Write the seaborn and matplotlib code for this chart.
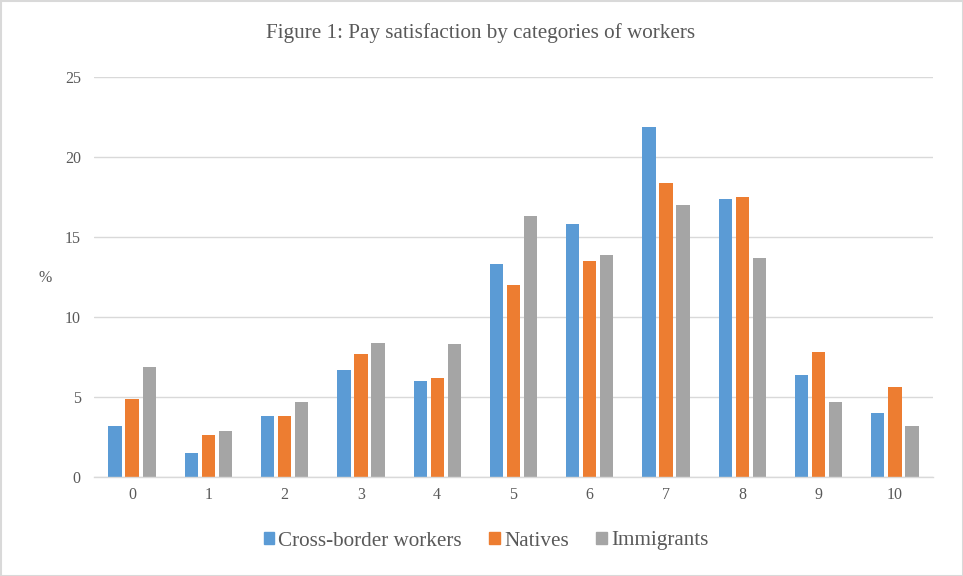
import matplotlib
matplotlib.use("Agg")
import matplotlib.pyplot as plt
import seaborn as sns
import pandas as pd
from matplotlib.patches import Rectangle

categories = ["0", "1", "2", "3", "4", "5", "6", "7", "8", "9", "10"]
cross_border = [3.2, 1.5, 3.8, 6.7, 6.0, 13.3, 15.8, 21.9, 17.4, 6.4, 4.0]
natives = [4.9, 2.6, 3.8, 7.7, 6.2, 12.0, 13.5, 18.4, 17.5, 7.8, 5.6]
immigrants = [6.9, 2.9, 4.7, 8.4, 8.3, 16.3, 13.9, 17.0, 13.7, 4.7, 3.2]
series_names = ["Cross-border workers", "Natives", "Immigrants"]
colors = ["#5B9BD5", "#ED7D31", "#A5A5A5"]

rows = []
for name, vals in zip(series_names, [cross_border, natives, immigrants]):
    for c, v in zip(categories, vals):
        rows.append({"cat": c, "val": v, "series": name})
df = pd.DataFrame(rows)

sns.set_theme(style="white")
plt.rcParams["font.family"] = ["Liberation Serif", "DejaVu Serif"]
text_color = "#595959"

fig = plt.figure(figsize=(9.63, 5.76), dpi=100)
ax = fig.add_axes([94/963, 1 - 477/576, (933-94)/963, 400/576])

sns.barplot(data=df, x="cat", y="val", hue="series", order=categories,
            hue_order=series_names, palette=colors, width=0.67, gap=0.22,
            saturation=1, ax=ax, legend=False, linewidth=0)

ax.set_ylim(0, 25)
ax.set_xlim(-0.5, 10.5)
ax.set_yticks([0, 5, 10, 15, 20, 25])
ax.yaxis.grid(True, color="#D9D9D9", linewidth=1)
ax.set_axisbelow(True)
for s in ["top", "right", "left"]:
    ax.spines[s].set_visible(False)
ax.spines["bottom"].set_color("#D9D9D9")
ax.spines["bottom"].set_linewidth(1)
ax.tick_params(axis="both", length=0, labelsize=11.5, colors=text_color)
ax.tick_params(axis="x", pad=7.5)
ax.tick_params(axis="y", pad=9.5)
ax.set_xlabel("")
ax.set_ylabel("")

fig.text(45/963, 1 - 278/576, "%", ha="center", va="center", fontsize=11.5, color=text_color)
fig.text(481/963, 1 - 33/576, "Figure 1: Pay satisfaction by categories of workers",
         ha="center", va="center", fontsize=15.2, color=text_color)

handles = [Rectangle((0, 0), 1, 1, color=c) for c in colors]
fig.legend(handles, series_names, loc="center", bbox_to_anchor=(486/963, 1 - 541/576),
           ncol=3, frameon=False, fontsize=15.2, handlelength=0.5, handleheight=0.5,
           handletextpad=0.2, columnspacing=1.3, labelcolor=text_color)

border = Rectangle((0.5/963, 0.5/576), 1 - 1/963, 1 - 1/576, transform=fig.transFigure,
                   fill=False, edgecolor="#D9D9D9", linewidth=1.5)
fig.patches.append(border)

fig.savefig("out.png", dpi=100)
